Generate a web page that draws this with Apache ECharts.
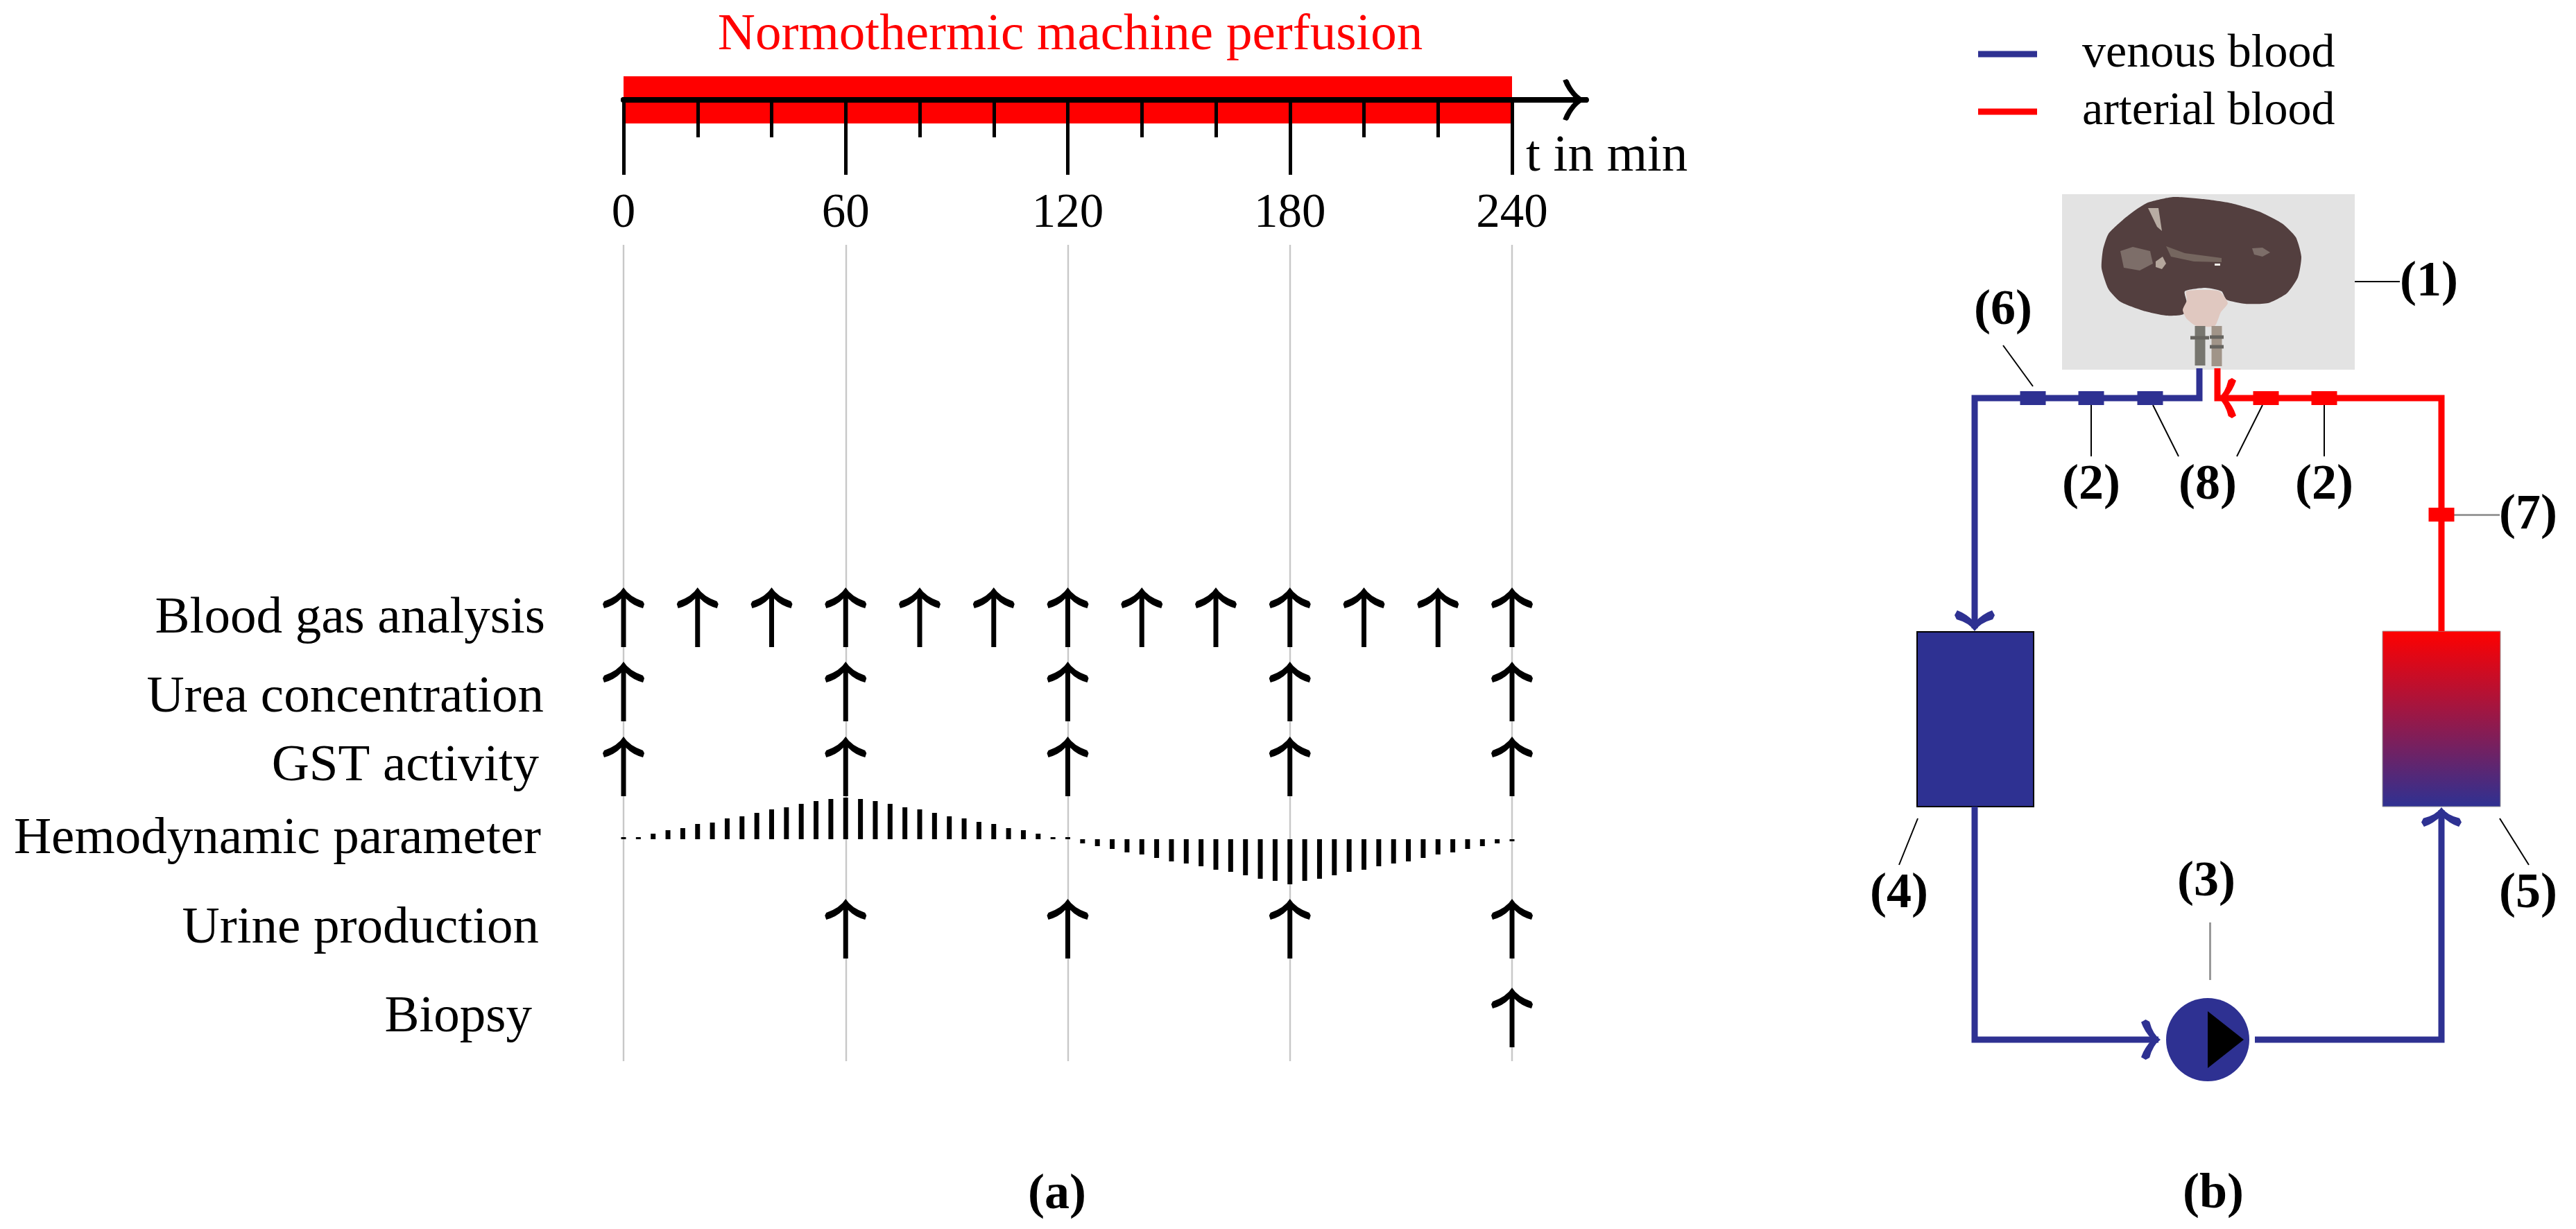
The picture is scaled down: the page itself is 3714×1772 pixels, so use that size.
<!DOCTYPE html>
<html>
<head>
<meta charset="utf-8">
<title>Normothermic machine perfusion</title>
<script src="https://cdn.jsdelivr.net/npm/echarts@6/dist/echarts.min.js"></script>
<style>
html,body{margin:0;padding:0;background:#fff}
#main{width:3714px;height:1772px}
</style>
</head>
<body>
<div id="main"></div>
<script>
// ---- data (a) ----
var majorTicks = [0, 60, 120, 180, 240];
var minorTicks = [20, 40, 80, 100, 140, 160, 200, 220];
var perfusionStart = 0;
var perfusionEnd = 240;
var axisEnd = 260;
var rowNames = ['Blood gas analysis', 'Urea concentration', 'GST activity', 'Urine production', 'Biopsy'];
var bloodGasTimes = [0, 20, 40, 60, 80, 100, 120, 140, 160, 180, 200, 220, 240];
var ureaTimes = [0, 60, 120, 180, 240];
var gstTimes = [0, 60, 120, 180, 240];
var urineTimes = [60, 120, 180, 240];
var biopsyTimes = [240];
var rowTimes = [bloodGasTimes, ureaTimes, gstTimes, urineTimes, biopsyTimes];
var hemoName = 'Hemodynamic parameter';
var hemoTimes = [0, 4, 8, 12, 16, 20, 24, 28, 32, 36, 40, 44, 48, 52, 56, 60, 64, 68, 72, 76, 80, 84, 88, 92, 96, 100, 104, 108, 112, 116, 120,
	124, 128, 132, 136, 140, 144, 148, 152, 156, 160, 164, 168, 172, 176, 180, 184, 188, 192, 196, 200, 204, 208, 212, 216, 220, 224, 228, 232, 236, 240];
var hemoValues = [3, 3, 8, 13, 16, 22, 24, 30, 33, 38, 43, 46, 51, 55, 58, 60, 58, 55, 51, 46, 43, 38, 33, 30, 25, 22, 16, 13, 8, 3, 3,
	-6, -10, -14, -19, -22, -27, -32, -35, -39, -44, -47, -52, -57, -60, -65, -60, -57, -52, -47, -44, -39, -35, -32, -27, -22, -19, -14, -10, -6, -3];

// ---- data (b), schematic units ----
var venousLines = [
	[[3171, 531], [3171, 574], [2847, 574], [2847, 906]],
	[[2847, 1163], [2847, 1499], [3112, 1499]],
	[[3251, 1499], [3520, 1499], [3520, 1168]]
];
var arterialLines = [
	[[3520, 910], [3520, 574], [3197, 574], [3197, 531]]
];
var venousSensors = [[2931, 574], [3015, 574], [3100, 574]];
var arterialSensors = [[3267, 574], [3351, 574], [3520, 742]];
var leaderLines = [
	[[2888, 498], [2931, 557]], [[3015, 584], [3015, 658]], [[3104, 584], [3141, 658]],
	[[3262, 584], [3225, 658]], [[3351, 584], [3351, 658]], [[3395, 406], [3460, 406]],
	[[2765, 1180], [2738, 1247]], [[3604, 1180], [3646, 1247]]
];
var greyLeaders = [[[3538, 742], [3604, 742]], [[3186, 1330], [3186, 1413]]];
var calloutNames = ['(1)', '(2)', '(2)', '(3)', '(4)', '(5)', '(6)', '(7)', '(8)'];
var calloutPoints = [[3502, 407], [3015, 700], [3351, 700], [3181, 1272], [2738, 1289], [3645, 1289], [2888, 448], [3645, 743], [3183, 700]];
var kidneyOutline = [[3097, 292], [3133, 284], [3177, 287], [3217, 293], [3257, 305], [3290, 322], [3310, 342], [3318, 370], [3313, 400], [3297, 423], [3270, 437],
	[3237, 438], [3210, 432], [3203, 420], [3180, 415], [3150, 420], [3153, 437], [3148, 453], [3123, 455], [3090, 448], [3057, 435], [3040, 417], [3030, 387], [3032, 360], [3040, 337], [3063, 315], [3083, 300]];
var hilumOutline = [[3152, 420], [3177, 418], [3200, 420], [3212, 437], [3202, 450], [3193, 470], [3167, 470], [3153, 460], [3147, 447], [3153, 433]];
var kidneyPatches = [
	[[3057, 362], [3075, 356], [3100, 362], [3104, 380], [3085, 390], [3062, 386]],
	[[3097, 300], [3112, 300], [3117, 333], [3110, 327]],
	[[3123, 355], [3150, 365], [3203, 372], [3203, 378], [3163, 377], [3130, 370]],
	[[3108, 377], [3118, 370], [3123, 380], [3117, 388], [3108, 385]],
	[[3247, 358], [3262, 357], [3273, 364], [3262, 370], [3250, 367]],
	[[3193, 380], [3201, 380], [3201, 383], [3193, 383]]
];
var patchColors = ['#7d6e69', '#b8aca3', '#75665f', '#b5a79d', '#7d6e69', '#f2eeea'];
var cannulas = [[[3172, 470], [3172, 527]], [[3196, 470], [3196, 528]]];
var cannulaCollars = [[[3158, 487], [3185, 487]], [[3186, 486], [3206, 486]], [[3186, 500], [3206, 500]]];

// ---- style ----
var BLUE = '#2E3192';
var RED = '#FF0000';
var SERIF = '"Liberation Serif", serif';
// arrow shapes, pointing up
var ARROW = 'path://M30 0Q38 13 58 20L60 24L58 30Q43 26 33.5 16L33.5 86L26.5 86L26.5 16Q17 26 2 30L0 24L2 20Q22 13 30 0Z';
var HEAD = 'path://M30 0Q38 14 58 21L60 23L58 28Q44 24 30 12Q16 24 2 28L0 23L2 21Q22 14 30 0Z';
var FLOW_HEAD = 'path://M30 0Q38 12 57 17L60 23L56 30Q42 25 30 13Q18 25 4 30L0 23L3 17Q22 12 30 0Z';

var L = 899, W = 1281;          // panel (a) 0..240 in px
var rowCenters = [890, 997, 1105, 1339, 1467];
var rowMargins = [113, 115, 122, 122, 132];
var rowLabelShift = [-2, -9, 0, 0, 0];

var grid = [], xAxis = [], yAxis = [], series = [];

// timeline, one grid for the long ticks and one for the short ones
[[majorTicks, 108], [minorTicks, 54]].forEach(function (t, g) {
	grid.push({left: L, width: W * axisEnd / 240, top: 110, height: 68});
	xAxis.push({
		type: 'value', gridIndex: g, min: 0, max: axisEnd, z: 5, splitLine: {show: false},
		axisLine: {onZero: true, lineStyle: {color: '#000', width: 8}},
		axisTick: {customValues: t[0], length: t[1], lineStyle: {color: '#000', width: 5}},
		axisLabel: g == 0
			? {customValues: majorTicks, margin: 96, fontFamily: SERIF, fontSize: 69, color: '#000', showMinLabel: true, showMaxLabel: true}
			: {show: false}
	});
	yAxis.push({type: 'value', gridIndex: g, min: -1, max: 1, show: false});
});
series.push({
	type: 'scatter', xAxisIndex: 0, yAxisIndex: 0, clip: false, silent: true, z: 1,
	data: [[axisEnd, 0]], symbol: HEAD, symbolSize: [60, 33], symbolRotate: -90, symbolOffset: [-17, 0],
	itemStyle: {color: '#000', opacity: 1},
	markArea: {silent: true, itemStyle: {color: RED}, data: [[{xAxis: perfusionStart}, {xAxis: perfusionEnd}]]}
});

// grey guides
grid.push({left: L, width: W, top: 353, height: 1177});
xAxis.push({
	type: 'value', gridIndex: 2, min: 0, max: 240, interval: 60,
	axisLine: {show: false}, axisTick: {show: false}, axisLabel: {show: false},
	splitLine: {show: true, lineStyle: {color: '#c8c8c8', width: 2.4}}
});
yAxis.push({type: 'value', gridIndex: 2, min: 0, max: 1, show: false});

// arrow rows, the y axis only carries the row name
rowNames.forEach(function (name, i) {
	var g = grid.length;
	grid.push({left: L, width: W, top: rowCenters[i] - 44, height: 88});
	xAxis.push({type: 'value', gridIndex: g, min: 0, max: 240, show: false});
	yAxis.push({
		type: 'value', gridIndex: g, min: -44, max: 44, splitLine: {show: false},
		axisLine: {show: false}, axisTick: {show: false},
		axisLabel: {customValues: [rowLabelShift[i]], margin: rowMargins[i], fontFamily: SERIF, fontSize: 75, color: '#000', formatter: function () { return name; }}
	});
	series.push({
		type: 'scatter', xAxisIndex: g, yAxisIndex: g, clip: false, silent: true, z: 4,
		symbol: ARROW, symbolSize: [60, 86], itemStyle: {color: '#000', opacity: 1},
		data: rowTimes[i].map(function (t) { return [t, 0]; })
	});
});

// hemodynamic row
var hg = grid.length;
grid.push({left: L, width: W, top: 1140, height: 140});
xAxis.push({type: 'value', gridIndex: hg, min: 0, max: 240, show: false});
yAxis.push({
	type: 'value', gridIndex: hg, min: -70, max: 70, splitLine: {show: false},
	axisLine: {show: false}, axisTick: {show: false},
	axisLabel: {customValues: [0], margin: 119, fontFamily: SERIF, fontSize: 75, color: '#000', formatter: function () { return hemoName; }}
});
series.push({
	type: 'bar', xAxisIndex: hg, yAxisIndex: hg, barWidth: 7, clip: false, silent: true, z: 4,
	itemStyle: {color: '#000'},
	data: hemoTimes.map(function (t, i) { return [t, hemoValues[i]]; })
});

// schematic grid (b)
var sg = grid.length;
grid.push({left: 2500, width: 1214, top: 0, height: 1772});
xAxis.push({type: 'value', gridIndex: sg, min: 2500, max: 3714, show: false});
yAxis.push({type: 'value', gridIndex: sg, min: 0, max: 1772, inverse: true, show: false});

function polyItem(points, api, fill, z, smooth) {
	return {type: 'polygon', z2: z, shape: {points: points.map(function (p) { return api.coord(p); }), smooth: smooth}, style: {fill: fill}};
}
function rectItem(p0, p1, api, style) {
	var a = api.coord(p0), b = api.coord(p1);
	return {type: 'rect', shape: {x: a[0], y: a[1], width: b[0] - a[0], height: b[1] - a[1]}, style: style};
}
function lineItem(c, api, color, width) {
	var a = api.coord(c[0]), b = api.coord(c[1]);
	return {type: 'line', z2: 4, shape: {x1: a[0], y1: a[1], x2: b[0], y2: b[1]}, style: {stroke: color, lineWidth: width}};
}
series.push({
	type: 'custom', xAxisIndex: sg, yAxisIndex: sg, clip: false, silent: true, z: 2, data: [[3000, 300]],
	renderItem: function (params, api) {
		var kids = [
			rectItem([2973, 280], [3395, 533], api, {fill: '#e3e3e3'}),
			rectItem([2764, 911], [2932, 1163], api, {fill: BLUE, stroke: '#000', lineWidth: 2}),
			rectItem([3435, 910], [3605, 1163], api, {
				fill: new echarts.graphic.LinearGradient(0, 0, 0, 1, [{offset: 0, color: RED}, {offset: 1, color: BLUE}]),
				stroke: '#999', lineWidth: 1
			}),
			polyItem(kidneyOutline, api, '#533f3f', 1, 0.2),
			polyItem(hilumOutline, api, '#e0c8c0', 3, 0.2)
		];
		kidneyPatches.forEach(function (p, i) { kids.push(polyItem(p, api, patchColors[i], 2, 0)); });
		cannulas.forEach(function (c, i) { kids.push(lineItem(c, api, i == 0 ? '#77766f' : '#a09488', 15)); });
		cannulaCollars.forEach(function (c) { kids.push(lineItem(c, api, '#66645f', 5)); });
		return {type: 'group', children: kids};
	}
});

function pathSeries(name, color, data) {
	return {
		name: name, type: 'line', xAxisIndex: sg, yAxisIndex: sg, data: data, symbol: 'none', silent: true, z: 3,
		itemStyle: {color: color}, lineStyle: {color: color, width: 9, join: 'miter', cap: 'butt'}
	};
}
venousLines.forEach(function (d) { series.push(pathSeries('venous blood', BLUE, d)); });
arterialLines.forEach(function (d) { series.push(pathSeries('arterial blood', RED, d)); });

function sensorSeries(color, data) {
	return {type: 'scatter', xAxisIndex: sg, yAxisIndex: sg, clip: false, silent: true, z: 4, symbol: 'rect', symbolSize: [37, 20], itemStyle: {color: color, opacity: 1}, data: data};
}
series.push(sensorSeries(BLUE, venousSensors));
series.push(sensorSeries(RED, arterialSensors));

// pump and its triangle
series.push({
	type: 'scatter', xAxisIndex: sg, yAxisIndex: sg, clip: false, silent: true, z: 4,
	symbol: 'circle', symbolSize: 120, itemStyle: {color: BLUE, opacity: 1}, data: [[3183, 1499]]
});
series.push({
	type: 'scatter', xAxisIndex: sg, yAxisIndex: sg, clip: false, silent: true, z: 5,
	symbol: 'triangle', symbolSize: [82, 52], symbolRotate: -90, itemStyle: {color: '#000', opacity: 1}, data: [[3209, 1499]]
});

// flow arrow heads
function headSeries(color, point, rot, size) {
	return {type: 'scatter', xAxisIndex: sg, yAxisIndex: sg, clip: false, silent: true, z: 5, symbol: FLOW_HEAD, symbolSize: size, symbolRotate: rot, itemStyle: {color: color, opacity: 1}, data: [point]};
}
series.push(headSeries(BLUE, [2847, 895], 180, [58, 30]));
series.push(headSeries(BLUE, [3101, 1499], -90, [58, 28]));
series.push(headSeries(BLUE, [3520, 1178], 0, [58, 28]));
series.push(headSeries(RED, [3211, 574], 90, [58, 26]));

// leader lines
series.push({
	type: 'lines', coordinateSystem: 'cartesian2d', xAxisIndex: sg, yAxisIndex: sg, silent: true, z: 3,
	lineStyle: {color: '#000', width: 2, opacity: 1, curveness: 0},
	data: leaderLines.map(function (c) { return {coords: c}; })
});
series.push({
	type: 'lines', coordinateSystem: 'cartesian2d', xAxisIndex: sg, yAxisIndex: sg, silent: true, z: 3,
	lineStyle: {color: '#999', width: 3, opacity: 1, curveness: 0},
	data: greyLeaders.map(function (c) { return {coords: c}; })
});

// callouts
series.push({
	type: 'scatter', xAxisIndex: sg, yAxisIndex: sg, clip: false, silent: true, z: 6, symbolSize: 1,
	itemStyle: {color: 'transparent', opacity: 1},
	label: {show: true, position: 'inside', formatter: '{b}', fontFamily: SERIF, fontSize: 72, fontWeight: 'bold', color: '#000'},
	data: calloutNames.map(function (n, i) { return {name: n, value: calloutPoints[i]}; })
});

var option = {
	animation: false,
	backgroundColor: '#fff',
	title: [
		{text: 'Normothermic machine perfusion', left: 1538, top: 46, textAlign: 'center', textVerticalAlign: 'middle', textStyle: {color: RED, fontFamily: SERIF, fontWeight: 'normal', fontSize: 75}},
		{text: 't in min', left: 2195, top: 221, textVerticalAlign: 'middle', textStyle: {color: '#000', fontFamily: SERIF, fontWeight: 'normal', fontSize: 75}},
		{text: '(a)', left: 1519, top: 1718, textAlign: 'center', textVerticalAlign: 'middle', textStyle: {color: '#000', fontFamily: SERIF, fontWeight: 'bold', fontSize: 72}},
		{text: '(b)', left: 3186, top: 1717, textAlign: 'center', textVerticalAlign: 'middle', textStyle: {color: '#000', fontFamily: SERIF, fontWeight: 'bold', fontSize: 72}}
	],
	legend: {
		left: 2847, top: 39, orient: 'vertical', itemWidth: 85, itemHeight: 9, itemGap: 15, selectedMode: false,
		data: [{name: 'venous blood', icon: 'rect'}, {name: 'arterial blood', icon: 'rect'}],
		textStyle: {fontFamily: SERIF, fontSize: 68, color: '#000', padding: [0, 0, 0, 60]}
	},
	grid: grid,
	xAxis: xAxis,
	yAxis: yAxis,
	series: series
};

var chart = echarts.init(document.getElementById('main'));
chart.setOption(option);
</script>
</body>
</html>
